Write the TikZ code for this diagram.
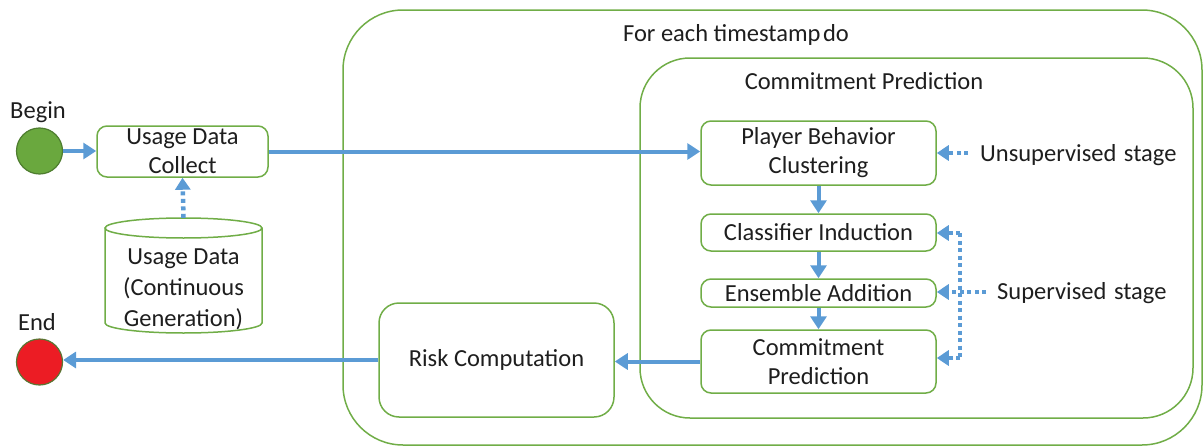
\documentclass[tikz,border=0pt]{standalone}
\usepackage{fontspec}
\setmainfont{Carlito}
\usetikzlibrary{arrows.meta}
\definecolor{frameGreen}{HTML}{70AD47}
\definecolor{flowBlue}{HTML}{5B9BD5}
\definecolor{beginFill}{HTML}{6AA83E}
\definecolor{beginLine}{HTML}{4E7D2F}
\definecolor{endFill}{HTML}{EC1C24}
\definecolor{endLine}{HTML}{5A7533}
\definecolor{ink}{HTML}{1E1E1E}
\tikzset{
  txt/.style={text=ink, font=\fontsize{24.5}{29}\selectfont, align=center, inner sep=0pt},
  stepbox/.style={txt, draw=frameGreen, line width=1.5pt, rounded corners=10pt,
                  minimum width=235pt},
  frame/.style={draw=frameGreen, line width=1.5pt, inner sep=0pt},
  flow/.style={draw=flowBlue, line width=4pt,
               -{Triangle[length=13pt,width=16pt]}},
  dotline/.style={draw=flowBlue, line width=4.5pt, dash pattern=on 4pt off 3.5pt},
  dotflow/.style={dotline, -{Triangle[length=12pt,width=15pt]}},
  terminal/.style={circle, line width=1.2pt, minimum size=46pt, inner sep=0pt}
}
\begin{document}
\begin{tikzpicture}[x=1pt, y=-1pt]
\useasboundingbox (0,0) rectangle (1203,447);

% containers
\node[frame, rounded corners=60pt, minimum width=859pt, minimum height=435pt] (loop) at (772.5,227.5) {};
\node[txt] (looplbl) at (736,35) {For each timestamp\hspace{-3pt} do};
\node[frame, rounded corners=50pt, minimum width=553pt, minimum height=360pt] (cpframe) at (916.5,238) {};
\node[txt] (cplbl) at (864,81) {Commitment Prediction};

% start / end
\node[txt] (beginlbl) at (38,112) {Begin};
\node[terminal, fill=beginFill, draw=beginLine] (begin) at (39.5,151) {};
\node[txt] (endlbl) at (37,322) {End};
\node[terminal, fill=endFill, draw=endLine] (endc) at (39.5,362) {};

% data collection
\node[stepbox, minimum width=171pt, minimum height=51pt] (collect) at (182.5,151.5) {Usage Data\\Collect};
\node[inner sep=0pt, minimum width=157pt, minimum height=115pt] (store) at (183.5,275.5) {};
\draw[frameGreen, line width=1.5pt]
  (105,228) -- (105,323) arc[start angle=180, end angle=360, x radius=78.5pt, y radius=10pt]
  -- (262,228)
  (183.5,228) ellipse[x radius=78.5pt, y radius=10pt];
\node[txt, font=\fontsize{24.5}{31}\selectfont] (storetxt) at (183.5,289) {Usage Data\\(Continuous\\Generation)};

% risk
\node[stepbox, rounded corners=20pt, minimum width=235pt, minimum height=114pt] (risk) at (496.5,360) {Risk Computation};

% commitment prediction steps
\node[stepbox, minimum height=64pt] (cluster) at (818.5,153) {Player Behavior\\Clustering};
\node[stepbox, minimum height=37pt] (induct) at (818.5,232.5) {Classifier Induction};
\node[stepbox, minimum height=28pt] (ensemble) at (818.5,293) {Ensemble Addition};
\node[stepbox, minimum height=63pt] (commit) at (818.5,361.5) {Commitment\\Prediction};

% stage labels
\node[txt, anchor=west] (unsup) at (980,155) {Unsupervised\hspace{2pt} stage};
\node[txt, anchor=west] (sup) at (997,293) {Supervised\hspace{2pt} stage};
\coordinate (unsupTail) at (968,153);
\coordinate (supTail) at (986,292);
\coordinate (supTop) at (960,233);
\coordinate (supBot) at (960,358);

% main flow
\draw[flow] (begin) -- (collect.west |- begin);
\draw[flow] (collect.east) -- (collect.east -| cluster.west);
\draw[flow] (cluster.south) -- (induct.north);
\draw[flow] (induct.south) -- (ensemble.north);
\draw[flow] (ensemble.south) -- (commit.north);
\draw[flow] (commit.west) -- (commit.west -| risk.east);
\draw[flow] (risk.west) -- (risk.west -| endc.east);

% data feed
\draw[dotflow] (store.north) -- (collect.south);

% stage annotations
\draw[dotflow] (unsupTail) -- (unsupTail -| cluster.east);
\draw[dotline] (supTop) -- (supBot);
\draw[dotflow] (supTop) -- (supTop -| induct.east);
\draw[dotflow] (supTail) -- (supTail -| ensemble.east);
\draw[dotflow] (supBot) -- (supBot -| commit.east);
\end{tikzpicture}
\end{document}
